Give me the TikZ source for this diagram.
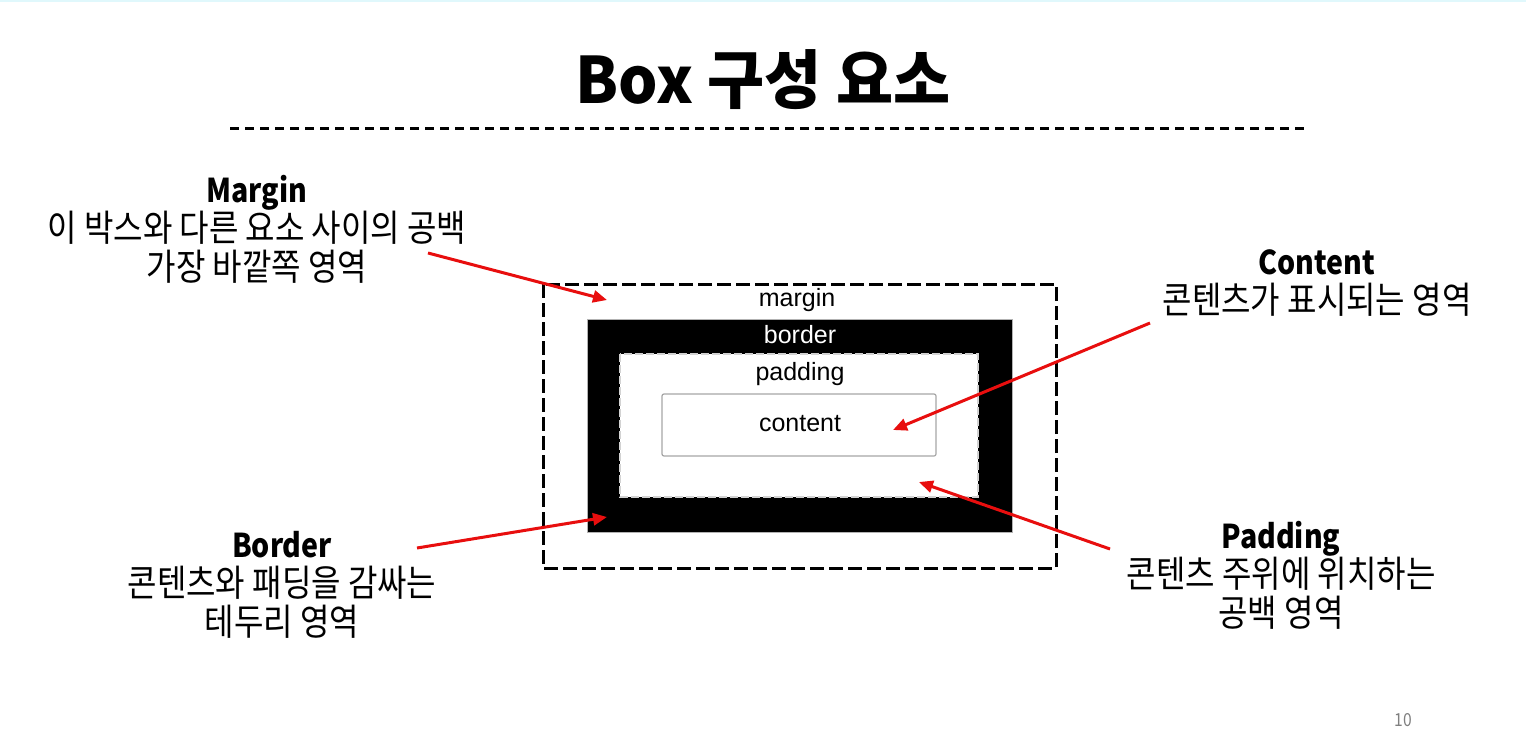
\documentclass[tikz,border=0pt]{standalone}
\usepackage{fontspec}
\setmainfont{Noto Sans CJK KR}[FakeStretch=0.87]
\newfontfamily\titlefont{Noto Sans CJK KR}[FakeStretch=0.97]
\newfontfamily\arialf{Liberation Sans}
\usetikzlibrary{arrows.meta}
\definecolor{arrred}{RGB}{232,14,14}
\definecolor{topcyan}{RGB}{224,248,252}
\newcommand{\hd}[1]{{\fontsize{16.4}{19.5}\selectfont\bfseries #1}}
\tikzset{
  desc/.style={align=center,inner sep=0pt,font=\fontsize{18.4}{19.5}\selectfont},
  boxlabel/.style={inner sep=0pt,font=\arialf\fontsize{12.5}{14}\selectfont},
  redarrow/.style={draw=arrred,line width=1.5pt,-{Triangle[length=7pt,width=6pt]},shorten >=0pt},
}
\begin{document}
\begin{tikzpicture}[x=0.5pt,y=-0.5pt]
\useasboundingbox (0,0) rectangle (1526,755);
\fill[topcyan] (0,0) rectangle (1526,2);
% title
\node[inner sep=0pt,font=\titlefont\bfseries\fontsize{32}{36}\selectfont] (title) at (763,80) {Box 구성 요소};
\coordinate (rl) at (230,128);
\coordinate (rr) at (1310,128);
\draw[line width=1.5pt,dash pattern=on 4.5pt off 3pt] (rl) -- (rr);
% box model
\draw[line width=1.5pt,dash pattern=on 7pt off 2.5pt,fill=white] (543,284) rectangle (1056,568);
\node[boxlabel] (lmargin) at (797,300) {margin};
\draw[fill=black,draw=gray!60,line width=0.5pt] (587,319) rectangle (1012,532);
\node[boxlabel,text=white] (lborder) at (800,335) {border};
\draw[fill=white,draw=gray!35,line width=1pt,dash pattern=on 4pt off 1.5pt] (620,354) rectangle (978,497);
\node[boxlabel] (lpadding) at (800,374) {padding};
\draw[fill=white,draw=gray!70,line width=0.6pt,rounded corners=1pt] (662,394) rectangle (936,456);
\node[boxlabel] (lcontent) at (800,424) {content};
% descriptions
\node[desc] (dmargin) at (257,229) {\hd{Margin}\\이 박스와 다른 요소 사이의 공백\\가장 바깥쪽 영역};
\node[desc] (dcontent) at (1317,283) {\hd{Content}\\콘텐츠가 표시되는 영역};
\node[desc] (dborder) at (282,585) {\hd{Border}\\콘텐츠와 패딩을 감싸는\\테두리 영역};
\node[desc] (dpadding) at (1281,575) {\hd{Padding}\\콘텐츠 주위에 위치하는\\공백 영역};
% arrows
\coordinate (ma1) at (428,253); \coordinate (ma2) at (607,300);
\coordinate (ca1) at (1150,323); \coordinate (ca2) at (893,430);
\coordinate (ba1) at (417,548); \coordinate (ba2) at (607,517);
\coordinate (pa1) at (1110,549); \coordinate (pa2) at (919,482);
\draw[redarrow] (ma1) -- (ma2);
\draw[redarrow] (ca1) -- (ca2);
\draw[redarrow] (ba1) -- (ba2);
\draw[redarrow] (pa1) -- (pa2);
% page number
\node[inner sep=0pt,text=gray,font=\fontsize{9}{10}\selectfont] (pnum) at (1403,720) {10};
\end{tikzpicture}
\end{document}
